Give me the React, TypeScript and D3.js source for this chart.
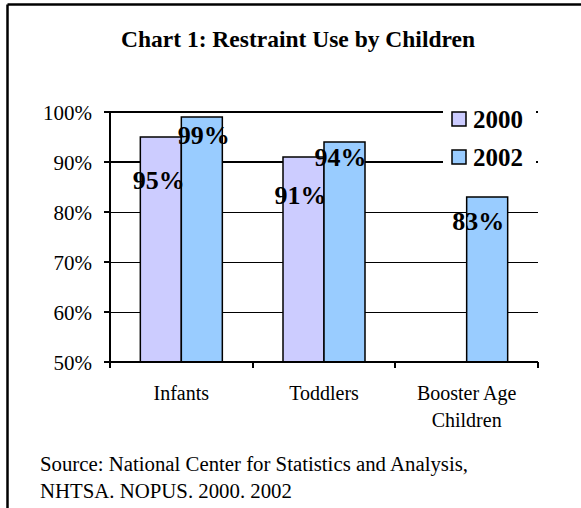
import React from "react";
import * as d3 from "d3";

// Restraint use by age group, percent of children restrained
const categories = ["Infants", "Toddlers", "Booster Age Children"];
const categoryLines = [["Infants"], ["Toddlers"], ["Booster Age", "Children"]];
const seriesNames = ["2000", "2002"];
const values2000: (number | null)[] = [95, 91, null];
const values2002: (number | null)[] = [99, 94, 83];
const yTicks = [50, 60, 70, 80, 90, 100];
const title = "Chart 1: Restraint Use by Children";
const sourceLines = [
  "Source: National Center for Statistics and Analysis,",
  "NHTSA. NOPUS. 2000. 2002",
];

// label placement relative to each bar (dx from bar centre, dy below bar top)
const labelNudge2000 = [
  { dx: -2, dy: 52 },
  { dx: -3, dy: 47 },
  { dx: 0, dy: 40 },
];
const labelNudge2002 = [
  { dx: 2, dy: 27 },
  { dx: -4, dy: 24 },
  { dx: -9, dy: 33 },
];

const W = 581;
const H = 508;
const FONT = "'Liberation Serif', 'Times New Roman', serif";
const COLORS = ["#CCCCFF", "#99CCFF"];

export default function App() {
  const plot = { left: 110, right: 538, top: 112, bottom: 362 };

  const x = d3
    .scaleBand<string>()
    .domain(categories)
    .range([plot.left, plot.right])
    .paddingInner(0)
    .paddingOuter(0);

  const groupW = 82;
  const xSub = d3.scaleBand<string>().domain(seriesNames).range([0, groupW]);

  const y = d3.scaleLinear().domain([50, 100]).range([plot.bottom, plot.top]);

  const series = [values2000, values2002];
  const nudges = [labelNudge2000, labelNudge2002];

  const bars: { key: string; x: number; y: number; w: number; h: number; fill: string; label: string; lx: number; ly: number }[] = [];
  categories.forEach((c, ci) => {
    series.forEach((vals, si) => {
      const v = vals[ci];
      if (v == null) return;
      const bx = (x(c) as number) + (x.bandwidth() - groupW) / 2 + (xSub(seriesNames[si]) as number);
      const bw = xSub.bandwidth();
      const by = y(v);
      const n = nudges[si][ci];
      bars.push({
        key: `${c}-${si}`,
        x: bx,
        y: by,
        w: bw,
        h: y(50) - by,
        fill: COLORS[si],
        label: `${v}%`,
        lx: bx + bw / 2 + n.dx,
        ly: by + n.dy,
      });
    });
  });

  const xTickPos = [...categories.map((c) => x(c) as number), plot.right];

  const legend = { x: 452, y: 112, rowH: 38, box: 14 };

  return (
    <svg
      width={W}
      height={H}
      viewBox={`0 0 ${W} ${H}`}
      style={{ position: "absolute", left: 0, top: 0, background: "#fff" }}
      fontFamily={FONT}
    >
      <rect x={0} y={0} width={W} height={H} fill="#fff" />
      {/* frame */}
      <line x1={7.5} y1={4.5} x2={W} y2={4.5} stroke="#000" strokeWidth={2.5} />
      <line x1={7.5} y1={4.5} x2={7.5} y2={H} stroke="#000" strokeWidth={2.5} />

      <text x={298} y={47} textAnchor="middle" fontSize={23.5} fontWeight="bold" fill="#000">
        {title}
      </text>

      {/* gridlines */}
      {yTicks
        .filter((t) => t > 50)
        .map((t) => {
          const thick = t >= 90;
          const gy = Math.round(y(t)) + (thick ? 0 : 0.5);
          return (
            <line
              key={`g${t}`}
              x1={plot.left}
              x2={plot.right}
              y1={gy}
              y2={gy}
              stroke="#000"
              strokeWidth={thick ? 2 : 1}
              shapeRendering="crispEdges"
            />
          );
        })}

      {/* bars */}
      {bars.map((b) => (
        <rect key={b.key} x={b.x} y={b.y} width={b.w} height={b.h} fill={b.fill} stroke="#000" strokeWidth={1.5} />
      ))}

      {/* axes */}
      <line x1={plot.left} x2={plot.left} y1={plot.top - 1} y2={plot.bottom + 6} stroke="#000" strokeWidth={2} shapeRendering="crispEdges" />
      <line x1={plot.left} x2={plot.right} y1={plot.bottom} y2={plot.bottom} stroke="#000" strokeWidth={2} shapeRendering="crispEdges" />
      {yTicks.map((t) => (
        <g key={`yt${t}`}>
          <line x1={plot.left - 6} x2={plot.left} y1={y(t)} y2={y(t)} stroke="#000" strokeWidth={2} shapeRendering="crispEdges" />
          <text x={92} y={y(t) + 8} textAnchor="end" fontSize={21} fill="#000">
            {`${t}%`}
          </text>
        </g>
      ))}
      {xTickPos.map((p, i) => (
        <line key={`xt${i}`} x1={p} x2={p} y1={plot.bottom} y2={plot.bottom + 6} stroke="#000" strokeWidth={2} shapeRendering="crispEdges" />
      ))}
      {categories.map((c, ci) => (
        <text key={`xl${c}`} x={(x(c) as number) + x.bandwidth() / 2} y={400} textAnchor="middle" fontSize={20} fill="#000">
          {categoryLines[ci].map((ln, li) => (
            <tspan key={li} x={(x(c) as number) + x.bandwidth() / 2} dy={li === 0 ? 0 : 27}>
              {ln}
            </tspan>
          ))}
        </text>
      ))}

      {/* data labels */}
      {bars.map((b) => (
        <text key={`l${b.key}`} x={b.lx} y={b.ly} textAnchor="middle" fontSize={26} fontWeight="bold" fill="#000">
          {b.label}
        </text>
      ))}

      {/* legend */}
      <rect x={443} y={100} width={93} height={72} fill="#fff" />
      {seriesNames.map((s, si) => (
        <g key={`lg${s}`}>
          <rect
            x={legend.x}
            y={legend.y + si * legend.rowH}
            width={legend.box}
            height={legend.box}
            fill={COLORS[si]}
            stroke="#000"
            strokeWidth={1.5}
          />
          <text x={473} y={legend.y + si * legend.rowH + 16} fontSize={25} fontWeight="bold" fill="#000">
            {s}
          </text>
        </g>
      ))}

      {/* source note */}
      {sourceLines.map((ln, i) => (
        <text key={`s${i}`} x={40} y={471 + i * 27} fontSize={20.8} fill="#000">
          {ln}
        </text>
      ))}
    </svg>
  );
}
